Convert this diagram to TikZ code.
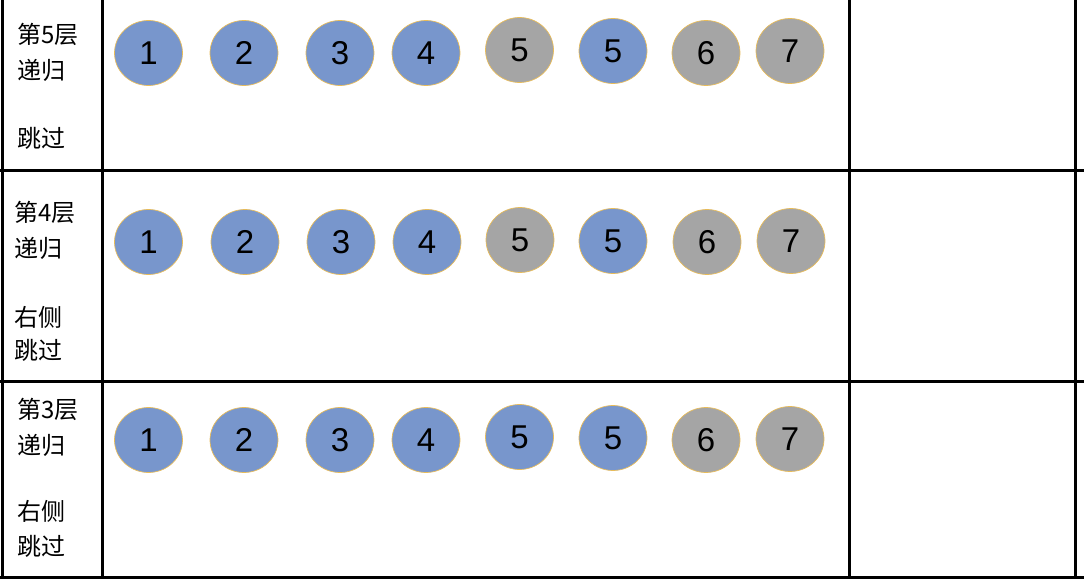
\documentclass[tikz,border=0pt]{standalone}
\usepackage{fontspec}
\setmainfont{Liberation Sans}
\newfontfamily\cjk{Noto Sans CJK SC}
\usetikzlibrary{shapes.geometric}
\definecolor{ballblue}{HTML}{7896CC}
\definecolor{ballgray}{HTML}{A5A5A5}
\definecolor{ballrim}{HTML}{E8BC5A}
\tikzset{
  ball/.style={ellipse, draw=ballrim, line width=0.7pt, minimum width=68pt, minimum height=65pt, inner sep=0pt, font=\fontsize{33}{33}\selectfont},
  bb/.style={ball, fill=ballblue},
  bg/.style={ball, fill=ballgray},
  lbl/.style={anchor=base west, inner sep=0pt, font=\cjk\fontsize{24}{24}\selectfont},
  grid/.style={line width=3pt, black}
}
\begin{document}
\begin{tikzpicture}[x=1pt,y=-1pt]
\useasboundingbox (0,0) rectangle (1084,580);
% grid
\coordinate (v1t) at (2.5,0); \coordinate (v1b) at (2.5,579);
\coordinate (v2t) at (102.5,0); \coordinate (v2b) at (102.5,579);
\coordinate (v3t) at (849.5,0); \coordinate (v3b) at (849.5,579);
\coordinate (v4t) at (1075.5,0); \coordinate (v4b) at (1075.5,579);
\coordinate (h1l) at (0,170.5); \coordinate (h1r) at (1084,170.5);
\coordinate (h2l) at (0,381.5); \coordinate (h2r) at (1084,381.5);
\coordinate (h3l) at (0,577.5); \coordinate (h3r) at (1084,577.5);
\draw[grid] (v1t) -- (v1b);
\draw[grid] (v2t) -- (v2b);
\draw[grid] (v3t) -- (v3b);
\draw[grid] (v4t) -- (v4b);
\draw[grid] (h1l) -- (h1r);
\draw[grid] (h2l) -- (h2r);
\draw[grid] (h3l) -- (h3r);
% labels row 1
\node[lbl] (l1a) at (17,44) {第5层};
\node[lbl] (l1b) at (17,80) {递归};
\node[lbl] (l1c) at (17,148) {跳过};
% labels row 2
\node[lbl] (l2a) at (14,222) {第4层};
\node[lbl] (l2b) at (14,257) {递归};
\node[lbl] (l2c) at (14,326) {右侧};
\node[lbl] (l2d) at (14,359) {跳过};
% labels row 3
\node[lbl] (l3a) at (17,418) {第3层};
\node[lbl] (l3b) at (17,454) {递归};
\node[lbl] (l3c) at (17,520) {右侧};
\node[lbl] (l3d) at (17,555) {跳过};
% row 1 balls
\node[bb] (a1) at (148.5,53) {1};
\node[bb] (a2) at (244,53) {2};
\node[bb] (a3) at (340,53) {3};
\node[bb] (a4) at (426,53) {4};
\node[bg] (a5) at (519.5,50) {5};
\node[bb] (a6) at (613,51) {5};
\node[bg] (a7) at (706,53) {6};
\node[bg] (a8) at (790,51) {7};
% row 2 balls
\node[bb] (b1) at (148.5,242) {1};
\node[bb] (b2) at (245,242) {2};
\node[bb] (b3) at (341,242) {3};
\node[bb] (b4) at (427,242) {4};
\node[bg] (b5) at (520,240) {5};
\node[bb] (b6) at (613,241) {5};
\node[bg] (b7) at (707,242) {6};
\node[bg] (b8) at (791,241) {7};
% row 3 balls
\node[bb] (c1) at (148.5,440) {1};
\node[bb] (c2) at (244,440) {2};
\node[bb] (c3) at (340,440) {3};
\node[bb] (c4) at (426,440) {4};
\node[bb] (c5) at (519.5,437) {5};
\node[bb] (c6) at (613,438) {5};
\node[bg] (c7) at (706,440) {6};
\node[bg] (c8) at (790,439) {7};
\end{tikzpicture}
\end{document}
